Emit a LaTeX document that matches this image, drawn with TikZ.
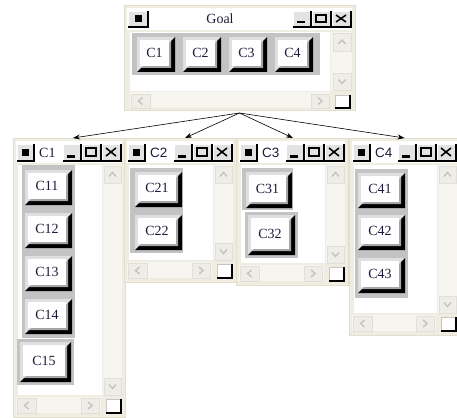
\documentclass[tikz,border=0pt]{standalone}
\usepackage{fontspec}
\setmainfont{Liberation Serif}
\setsansfont{Liberation Sans}
\usetikzlibrary{arrows.meta}

\definecolor{frame}{HTML}{EFEDE1}
\definecolor{framedge}{HTML}{E2DFCE}
\definecolor{track}{HTML}{F6F5F0}
\definecolor{sbtnfill}{HTML}{EEEDE7}
\definecolor{sbtnedge}{HTML}{E0DFD8}
\definecolor{chevgray}{HTML}{C4C3BE}
\definecolor{panel}{HTML}{C3C3C3}
\definecolor{ink}{HTML}{1C1C3A}

\newcommand\titlerm{\fontsize{14}{16}\selectfont}
\newcommand\titlesf{\sffamily\fontsize{13.5}{16}\selectfont}

% small title bar button
\newcommand\tbtn[4]{%
  \fill[gray!22] (#1,#2) rectangle (#3,#4);
  \draw[white] (#1,#4) -- (#1,#2) -- (#3,#2);
  \draw[black, line width=1.2pt] (#3,#2) -- (#3,#4) -- (#1,#4);}
% minimise, maximise, close ending at x=#1
\newcommand\titlebtns[3]{%
  \tbtn{#1-59}{#2}{#1-41}{#3}
  \fill ({#1-55},{#3-6}) rectangle ({#1-47},{#3-3.5});
  \tbtn{#1-40}{#2}{#1-21}{#3}
  \draw[line width=1.2pt] ({#1-36},{#2+4}) rectangle ({#1-26},{#3-5});
  \tbtn{#1-20}{#2}{#1-1}{#3}
  \draw[line width=1.5pt] ({#1-16},{#2+4}) -- ({#1-6},{#3-5}) ({#1-16},{#3-5}) -- ({#1-6},{#2+4});}
% scroll bar button with chevron
\newcommand\sbtn[5]{%
  \fill[sbtnfill] (#1,#2) rectangle (#3,#4);
  \draw[sbtnedge] (#1,#2) rectangle (#3,#4);
  \draw[chevline, shift={({(#1+#3)/2},{(#2+#4)/2})}, rotate=#5] (-3.5,2) -- (0,-2) -- (3.5,2);}
% size grip corner
\newcommand\grip[4]{%
  \fill[white] (#1,#2) rectangle (#3,#4);
  \draw[gray!45] (#1,#4) -- (#1,#2) -- (#3,#2);
  \draw[black, line width=1.3pt] (#3,#2) -- (#3,#4) -- (#1,#4);}
% raised button: name, x1, y1, x2, y2, label
\newcommand\cbtn[6]{%
  \fill[gray!25] (#2,#3) rectangle (#4,#5);
  \fill[black] (#4,#3) -- (#4,#5) -- (#2,#5) -- (#2+4,#5-4) -- (#4-4,#5-4) -- (#4-4,#3+4) -- cycle;
  \fill[gray!70] (#4-4,#3+4) -- (#4-4,#5-4) -- (#2+4,#5-4) -- (#2+6,#5-6) -- (#4-6,#5-6) -- (#4-6,#3+6) -- cycle;
  \node[face, minimum width={((#4)-(#2)-9)*1pt}, minimum height={((#5)-(#3)-9)*1pt}] (#1) at ({((#2)+(#4))/2-1.5},{((#3)+(#5))/2-1.5}) {#6};}
% child window: name, left, right, bottom, title, title font
\newcommand\childwin[6]{%
  \node[winbox, minimum width={((#3)-(#2))*1pt}, minimum height={((#4)-138)*1pt}] (#1) at ({((#2)+(#3))/2},{(138+(#4))/2}) {};
  \fill[white] (#2+3,141) rectangle (#3-3,163);
  \tbtn{#2+4}{144}{#2+21}{161}
  \fill (#2+9,149) rectangle (#2+16,156);
  \node[anchor=west, inner sep=0pt, text=ink, font=#6] (#1t) at (#2+26,152.5) {#5};
  \titlebtns{#3-3}{144}{161}
  \fill[white] (#2+5,165) rectangle (#3-23,#4-22);
  \fill[track] (#3-22,165) rectangle (#3-3,#4-22);
  \sbtn{#3-21}{166}{#3-4}{183}{0}
  \sbtn{#3-21}{#4-39}{#3-4}{#4-22}{180}
  \fill[track] (#2+3,#4-20) rectangle (#3-24,#4-4);
  \sbtn{#2+4}{#4-19}{#2+23}{#4-4}{90}
  \sbtn{#3-44}{#4-19}{#3-26}{#4-4}{-90}
  \grip{#3-19}{#4-18}{#3-4}{#4-4}}

\begin{document}
\begin{tikzpicture}[x=1pt, y=-1pt]
    \tikzstyle{winbox} = [rectangle, draw=framedge, fill=frame, inner sep=0pt, outer sep=0pt]
    \tikzstyle{face} = [rectangle, fill=white, inner sep=0pt, text=ink, font=\fontsize{14}{16}\selectfont]
    \tikzstyle{chevline} = [chevgray, line width=1.4pt]
    \tikzstyle{arrow} = [line width=0.6pt, -{Stealth[length=7pt, width=5pt]}]

    \clip (0,0) rectangle (457,417);
    \fill[white] (0,0) rectangle (457,417);

    % goal window
    \node[winbox, minimum width=231pt, minimum height=105pt] (goal) at (239.5,57.5) {};
    \fill[white] (127,8) rectangle (352,30);
    \tbtn{128}{11}{148}{27}
    \fill (134.5,15.5) rectangle (141.5,22.5);
    \node[text=ink, font=\titlerm] (goalt) at (220,19) {Goal};
    \titlebtns{352}{11}{27}
    \fill[white] (130,32) rectangle (330,91);
    \fill[track] (331,32) rectangle (352,91);
    \sbtn{333}{33}{351}{51}{0}
    \sbtn{333}{73}{351}{90}{180}
    \fill[track] (130,92) rectangle (330,108);
    \sbtn{131}{94}{150}{108}{90}
    \sbtn{311}{94}{329}{108}{-90}
    \grip{335}{95}{350}{108}
    \fill[panel] (132,33) rectangle (320,75);
    \foreach \i in {1,...,4}
        \cbtn{c\i}{91+46*\i}{37}{129+46*\i}{72}{C\i};

    % C1 window
    \childwin{w1}{13}{125}{417}{C1}{\titlerm}
    \fill[panel] (22,165) rectangle (75,338);
    \foreach \i in {1,...,4}
        \cbtn{c1\i}{25}{127+43*\i}{72}{162+43*\i}{C1\i};
    \fill[panel] (17,339) rectangle (74,385);
    \cbtn{c15}{20}{342}{71}{382}{C15}

    % C2 window
    \childwin{w2}{124}{236}{282}{C2}{\titlesf}
    \fill[panel] (130,168) rectangle (183,253);
    \cbtn{c21}{135}{172}{182}{207}{C21}
    \cbtn{c22}{135}{215}{182}{250}{C22}

    % C3 window
    \childwin{w3}{236}{348}{285}{C3}{\titlesf}
    \fill[panel] (242,168) rectangle (293,210);
    \cbtn{c31}{246}{172}{292}{208}{C31}
    \fill[panel] (245,212) rectangle (298,258);
    \cbtn{c32}{248}{215}{295}{255}{C32}

    % C4 window
    \childwin{w4}{349}{460}{335}{C4}{\titlesf}
    \fill[panel] (355,169) rectangle (408,298);
    \cbtn{c41}{358}{173}{405}{208}{C41}
    \cbtn{c42}{358}{215}{405}{250}{C42}
    \cbtn{c43}{358}{258}{405}{293}{C43}

    % links
    \coordinate (src) at ([yshift=-3pt]goal.south);
    \draw[arrow] (src) -- ([xshift=4pt]w1.north);
    \draw[arrow] (src) -- ([xshift=5pt]w2.north);
    \draw[arrow] (src) -- ([xshift=1pt]w3.north);
    \draw[arrow] (src) -- (w4.north);
\end{tikzpicture}
\end{document}
